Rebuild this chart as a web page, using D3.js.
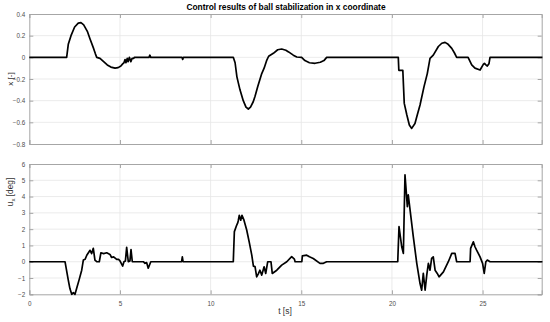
<!DOCTYPE html>
<html lang="en">
<head>
    <meta charset="UTF-8">
    <title>ball stabilization x</title>
    <style>
        body{margin:0; background:#fff;}
        svg{display:block; font-family:"Liberation Sans", Arial, sans-serif;}
        .grid line{stroke:#e6e6e6; stroke-width:0.8;}
        .tick text{fill:#4d4d4d;}
    </style>
</head>
<body>
    <div id="chart"></div>
    <script src="https://cdn.jsdelivr.net/npm/d3@7"></script>
    <script>
        // data
        var tX=[0,2.06,2.15,2.3,2.5,2.7,2.85,3.0,3.2,3.35,3.55,3.65,3.72,3.9,4.1,4.3,4.5,4.73,4.9,5.05,5.15,5.22,5.28,5.33,5.4,5.45,5.52,5.6,5.67,5.75,5.8,6.6,6.65,6.7,8.42,8.46,8.5,
            11.25,11.35,11.45,11.62,11.8,11.95,12.08,12.2,12.35,12.45,12.6,12.82,12.95,13.1,13.2,13.46,13.7,13.92,14.15,14.3,14.56,14.75,15.02,15.2,15.45,15.76,16.05,16.25,16.4,
            20.35,20.38,20.6,20.68,20.82,20.96,21.09,21.27,21.4,21.55,21.77,21.95,22.1,22.28,22.56,22.75,22.93,23.1,23.3,23.45,23.57,24.2,24.4,24.58,24.86,25.04,25.1,25.18,25.26,25.35,25.41,28.3];
        var xVals=[0,0,0.12,0.2,0.28,0.315,0.32,0.3,0.24,0.17,0.08,0.03,0,-0.01,-0.04,-0.07,-0.09,-0.1,-0.095,-0.08,-0.06,-0.05,-0.02,-0.05,-0.01,-0.04,0,-0.04,-0.01,-0.01,0,0,0.02,0,0,-0.02,0,
            0,-0.05,-0.18,-0.3,-0.4,-0.46,-0.477,-0.46,-0.41,-0.36,-0.27,-0.15,-0.1,-0.025,0.01,0.037,0.07,0.077,0.065,0.05,0.02,0.003,0,-0.03,-0.05,-0.055,-0.045,-0.03,0,
            0,-0.12,-0.12,-0.425,-0.53,-0.625,-0.656,-0.61,-0.53,-0.44,-0.27,-0.15,-0.01,0.02,0.1,0.13,0.138,0.12,0.083,0.04,0,0,-0.07,-0.1,-0.117,-0.065,-0.055,-0.07,-0.08,-0.06,0,0];

        var tU=[0,1.97,2.15,2.24,2.34,2.43,2.52,2.61,2.75,2.89,2.98,3.08,3.17,3.26,3.35,3.44,3.53,3.62,3.72,3.86,3.95,4.1,4.27,4.45,4.54,4.65,4.82,4.92,5.0,5.15,5.22,5.3,5.37,5.46,5.55,5.61,5.68,6.29,6.38,6.47,6.56,6.7,8.4,8.44,8.48,
            11.25,11.31,11.44,11.5,11.53,11.58,11.66,11.73,11.84,11.99,12.13,12.27,12.36,12.45,12.54,12.63,12.72,12.82,12.95,13.04,13.15,13.33,13.4,13.65,13.92,14.2,14.47,14.62,14.66,15.03,15.06,15.3,15.45,15.66,16.03,16.22,16.4,
            20.32,20.39,20.54,20.63,20.72,20.85,20.9,21.0,21.18,21.37,21.55,21.64,21.73,21.83,21.92,22.01,22.1,22.19,22.28,22.38,22.5,22.6,22.84,23.11,23.3,23.48,23.57,24.31,24.34,24.49,24.58,24.67,24.86,25.0,25.09,25.18,25.26,25.41,28.3];
        var uVals=[0,0,-1.13,-1.65,-2.0,-1.9,-2.0,-1.65,-1.1,-0.52,0.1,0.15,0.4,0.55,0.7,0.5,0.82,0.1,0,0,0.55,0.5,0.55,0.45,0.26,0.3,0.14,0.15,0.05,-0.27,0,0.05,0.88,0,0.05,0.75,0,0,-0.1,-0.05,-0.4,0,0,0.3,0,
            0,1.85,2.25,2.4,2.55,2.85,2.55,2.85,2.55,1.95,1.2,0.4,-0.27,-0.3,-0.93,-0.75,-0.52,-0.82,-0.31,-0.72,0,0,-0.72,-0.52,-0.21,0,0.31,0.16,0,0,0.36,0.4,0.3,0.2,-0.1,-0.1,0,
            0,2.15,0.92,0.51,5.33,3.38,4.1,3.18,1.53,-0.1,-1.34,-1.75,-0.72,-1.75,-0.82,-0.1,-0.52,0.2,0.3,-0.52,-0.72,-0.93,-0.62,0,0.51,0.51,0,0,0.82,1.22,0.92,0.71,0.3,-0.1,-0.72,0,0.1,0,0];

        var tTicks=[0,5,10,15,20,25];
        var xTicks=[-0.8,-0.6,-0.4,-0.2,0,0.2,0.4];
        var uTicks=[-2,-1,0,1,2,3,4,5,6];

        var width=550, height=322;
        var left=29.3, right=541.7;
        var svg=d3.select('#chart').append('svg').attr('width',width).attr('height',height);

        var xScale=d3.scaleLinear().domain([0,28.26]).range([left,right]);

        function panel(top,bottom,yDomain,yTicks,fmt,ts,vs,showX){
            var yScale=d3.scaleLinear().domain(yDomain).range([bottom,top]);
            var g=svg.append('g');
            // grid
            g.append('g').attr('class','grid').selectAll('line.v').data(tTicks.slice(1)).enter().append('line')
                .attr('x1',function(d){return xScale(d)}).attr('x2',function(d){return xScale(d)})
                .attr('y1',top).attr('y2',bottom);
            g.append('g').attr('class','grid').selectAll('line.h').data(yTicks.slice(1,-1)).enter().append('line')
                .attr('y1',function(d){return yScale(d)}).attr('y2',function(d){return yScale(d)})
                .attr('x1',left).attr('x2',right);
            // axes
            var ax=d3.axisBottom(xScale).tickValues(tTicks).tickSize(-4).tickPadding(7).tickFormat(showX?d3.format('d'):'');
            var ay=d3.axisLeft(yScale).tickValues(yTicks).tickSize(-4).tickPadding(4).tickFormat(fmt);
            var axT=d3.axisTop(xScale).tickValues(tTicks).tickSize(-4).tickFormat('');
            var ayR=d3.axisRight(yScale).tickValues(yTicks).tickSize(-4).tickFormat('');
            var axes=[
                g.append('g').attr('transform','translate(0,'+bottom+')').call(ax),
                g.append('g').attr('transform','translate('+left+',0)').call(ay),
                g.append('g').attr('transform','translate(0,'+top+')').call(axT),
                g.append('g').attr('transform','translate('+right+',0)').call(ayR)
            ];
            axes.forEach(function(a){
                a.selectAll('.domain').attr('stroke','#a6a6a6');
                a.selectAll('.tick line').attr('stroke','#a6a6a6');
                a.selectAll('text').style('font-size','6.3px').attr('font-family','"Liberation Sans", Arial, sans-serif');
            });
            // line
            var pts=ts.map(function(t,i){return [t,vs[i]]});
            g.append('path').datum(pts)
                .attr('fill','none').attr('stroke','#000').attr('stroke-width',1.7)
                .attr('stroke-linejoin','round')
                .attr('d',d3.line().x(function(d){return xScale(d[0])}).y(function(d){return yScale(d[1])}));
            return yScale;
        }

        panel(14,144,[-0.8,0.4],xTicks,function(d){return d===0?'0':d3.format('.1f')(d)},tX,xVals,false);
        panel(164,294.3,[-2,6],uTicks,d3.format('d'),tU,uVals,true);

        // title and labels
        svg.append('text').attr('x',286).attr('y',10.3).attr('text-anchor','middle')
            .style('font-size','8.4px').style('font-weight','bold').style('fill','#000')
            .text('Control results of ball stabilization in x coordinate');
        svg.append('text').attr('transform','translate(13,79) rotate(-90)').attr('text-anchor','middle')
            .style('font-size','8px').style('fill','#333').text('x [-]');
        var ul=svg.append('text').attr('transform','translate(13,192) rotate(-90)').attr('text-anchor','middle')
            .style('font-size','8.3px').style('fill','#333');
        ul.append('tspan').text('u');
        ul.append('tspan').attr('dy',2).style('font-size','6px').text('x');
        ul.append('tspan').attr('dy',-2).text(' [deg]');
        svg.append('text').attr('x',285).attr('y',313.5).attr('text-anchor','middle')
            .style('font-size','8.5px').style('fill','#333').text('t [s]');
    </script>
</body>
</html>
